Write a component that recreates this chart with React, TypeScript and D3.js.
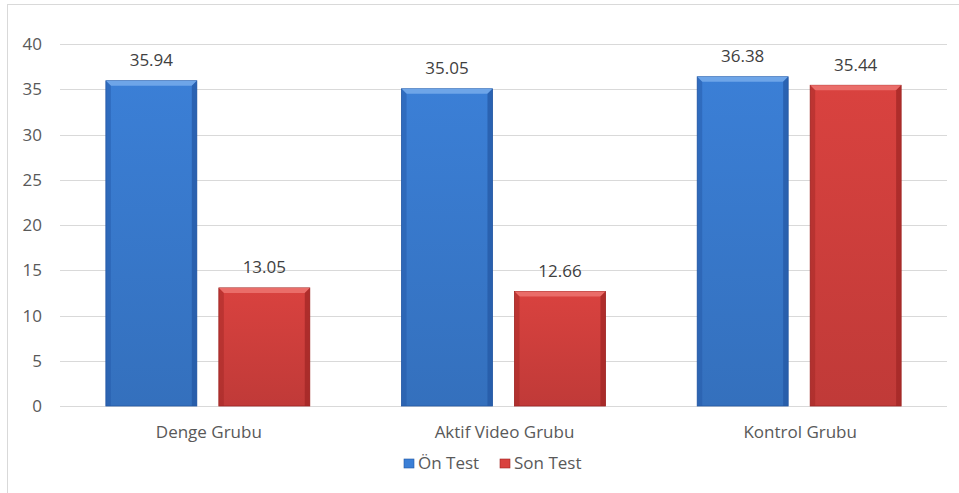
import React from "react";
import * as d3 from "d3";

const categories = ["Denge Grubu", "Aktif Video Grubu", "Kontrol Grubu"];
const seriesNames = ["Ön Test", "Son Test"];
const onTest = [35.94, 35.05, 36.38];
const sonTest = [13.05, 12.66, 35.44];
const yTicks = [0, 5, 10, 15, 20, 25, 30, 35, 40];

const W = 959;
const H = 493;
const plot = { left: 60, right: 947, top: 44, bottom: 406 };
const FONT = "'Open Sans', sans-serif";

const colors = [
  { base: "#3b7fd6", light: "#6ea5e8", dark: "#2457a3" },
  { base: "#d9423f", light: "#ea6d69", dark: "#9e2523" },
];

export default function App() {
  const x0 = d3.scaleBand().domain(categories).range([plot.left, plot.right]).paddingInner(0).paddingOuter(0);
  const y = d3.scaleLinear().domain([0, 40]).range([plot.bottom, plot.top]);
  const inner = d3.scaleBand().domain(seriesNames).range([0, x0.bandwidth()]).paddingInner(0.195).paddingOuter(0.406);
  const series = [onTest, sonTest];
  const bev = 5;

  return (
    <svg width={W} height={H} style={{ display: "block", position: "absolute", left: 0, top: 0, background: "#fff" }}>
      <defs>
        {colors.map((c, i) => (
          <linearGradient key={i} id={`g${i}`} x1="0" y1="0" x2="0" y2="1">
            <stop offset="0" stopColor={c.base} />
            <stop offset="1" stopColor={d3.color(c.base)!.darker(0.35).toString()} />
          </linearGradient>
        ))}
      </defs>
      <line x1={7} y1={4.5} x2={W} y2={4.5} stroke="#d9d9d9" />
      <line x1={7.5} y1={4} x2={7.5} y2={H} stroke="#d9d9d9" />
      {yTicks.map((t) => (
        <g key={t}>
          <line x1={plot.left} x2={plot.right} y1={Math.round(y(t)) + 0.5} y2={Math.round(y(t)) + 0.5} stroke="#d9d9d9" strokeWidth={1} />
          <text x={42} y={y(t)} dy="0.36em" textAnchor="end" fontFamily={FONT} fontSize={17} fill="#595959">
            {t}
          </text>
        </g>
      ))}
      {categories.map((cat, ci) => (
        <g key={cat}>
          {seriesNames.map((s, si) => {
            const v = series[si][ci];
            const bx = (x0(cat) as number) + (inner(s) as number);
            const bw = inner.bandwidth();
            const by = y(v);
            const bh = y(0) - by;
            const c = colors[si];
            return (
              <g key={s}>
                <rect x={bx} y={by} width={bw} height={bh} fill={`url(#g${si})`} stroke={c.dark} strokeWidth={0.8} />
                <polygon points={`${bx},${by} ${bx + bw},${by} ${bx + bw - bev},${by + bev} ${bx + bev},${by + bev}`} fill={c.light} />
                <polygon points={`${bx},${by} ${bx + bev},${by + bev} ${bx + bev},${by + bh} ${bx},${by + bh}`} fill={c.dark} opacity={0.45} />
                <polygon points={`${bx + bw},${by} ${bx + bw - bev},${by + bev} ${bx + bw - bev},${by + bh} ${bx + bw},${by + bh}`} fill={c.dark} opacity={0.7} />
                <text x={bx + bw / 2} y={by - 14.5} textAnchor="middle" fontFamily={FONT} fontSize={17} fill="#404040">
                  {v.toFixed(2)}
                </text>
              </g>
            );
          })}
          <text x={(x0(cat) as number) + x0.bandwidth() / 2 + 1} y={438} textAnchor="middle" fontFamily={FONT} fontSize={17} fill="#595959">
            {cat}
          </text>
        </g>
      ))}
      {seriesNames.map((s, i) => {
        const lx = i === 0 ? 404 : 500;
        return (
          <g key={s}>
            <rect x={lx} y={459} width={10} height={9} fill={colors[i].base} stroke={colors[i].dark} strokeWidth={0.6} />
            <text x={lx + 14} y={469} fontFamily={FONT} fontSize={17} fill="#595959">
              {s}
            </text>
          </g>
        );
      })}
    </svg>
  );
}
